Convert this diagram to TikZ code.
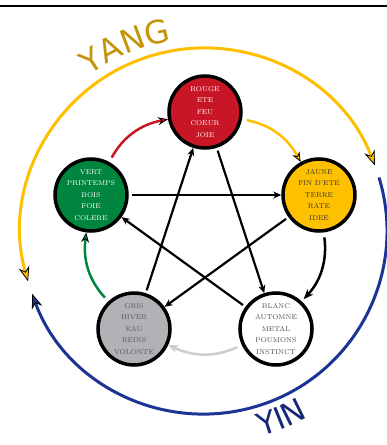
\documentclass[tikz,border=0pt]{standalone}
\usepackage{fontspec}
\newfontfamily\yinyangfont{DejaVu Sans}
\usetikzlibrary{arrows.meta,decorations.text}

\definecolor{rouge}{RGB}{200,22,38}
\definecolor{vert}{RGB}{0,133,62}
\definecolor{jaune}{RGB}{255,192,0}
\definecolor{gris}{RGB}{176,178,181}
\definecolor{grisclair}{RGB}{205,205,205}
\definecolor{yangor}{RGB}{255,190,0}
\definecolor{yinbleu}{RGB}{28,52,148}
\definecolor{yangtexte}{RGB}{196,148,10}
\definecolor{yintexte}{RGB}{22,40,118}

\begin{document}
\begin{tikzpicture}[x=1pt,y=1pt,
  element/.style={circle,draw=black,line width=3.5pt,minimum size=72pt,inner sep=0pt,
    align=center,font=\fontsize{7}{11.5}\selectfont},
  ke/.style={line width=2.2pt,shorten <=3pt,-{Stealth[length=8pt,width=7pt]}},
  sheng/.style={line width=2.5pt,draw=#1,bend left=25,shorten <=5pt,
    -{Stealth[length=10pt,width=8pt,fill=#1,color=black,line width=0.8pt]}},
  yangarc/.style={line width=3pt,draw=yangor,
    {Stealth[length=15pt,width=11pt,fill=yangor,color=black,line width=0.8pt]}-{Stealth[length=15pt,width=11pt,fill=yangor,color=black,line width=0.8pt]}},
  yinarc/.style={line width=3pt,draw=yinbleu,
    -{Stealth[length=15pt,width=11pt,fill=yinbleu,color=black,line width=0.8pt]}}]
  \useasboundingbox (0,0) rectangle (387,445);
  \draw[line width=2pt] (0,439) -- (387,439);
  \coordinate (centre) at (204,214);

  % yang / yin
  \draw[yangarc] ([shift={(196:183)}]centre) arc[start angle=196,end angle=21,radius=183];
  \draw[yinarc] ([shift={(17:183)}]centre) arc[start angle=17,end angle=-160,radius=183];
  \path[decorate,decoration={text along path,text align=center,text color=yangtexte,
    text={|\yinyangfont\fontsize{32}{32}\selectfont|YANG}}]
    ([shift={(142:193)}]centre) arc[start angle=142,end angle=84,radius=193];
  \path[decorate,decoration={text along path,text align=center,text color=yintexte,
    text={|\yinyangfont\fontsize{31}{31}\selectfont|YIN}}]
    ([shift={(-86:213)}]centre) arc[start angle=-86,end angle=-49,radius=213];

  % les cinq elements
  \node[element,fill=rouge,text=white]      (feu)   at (205,333) {ROUGE\\ETE\\FEU\\COEUR\\JOIE};
  \node[element,fill=jaune,text=black!80]   (terre) at (319,250) {JAUNE\\FIN D'ETE\\TERRE\\RATE\\IDEE};
  \node[element,fill=white,text=black!70]   (metal) at (276,116) {BLANC\\AUTOMNE\\METAL\\POUMONS\\INSTINCT};
  \node[element,fill=gris,text=black!65]    (eau)   at (134,116) {GRIS\\HIVER\\EAU\\REINS\\VOLONTE};
  \node[element,fill=vert,text=white]       (bois)  at (91,250)  {VERT\\PRINTEMPS\\BOIS\\FOIE\\COLERE};

  % controle
  \path (bois)  edge[ke] (terre);
  \path (terre) edge[ke] (eau);
  \path (eau)   edge[ke] (feu);
  \path (feu)   edge[ke] (metal);
  \path (metal) edge[ke] (bois);

  % engendrement
  \path (bois)  edge[sheng=rouge] (feu);
  \path (feu)   edge[sheng=yangor] (terre);
  \path (terre) edge[sheng=black,shorten >=3pt] (metal);
  \path (metal) edge[sheng=grisclair,-{Stealth[length=10pt,width=8pt,fill=black]}] (eau);
  \path (eau)   edge[sheng=vert] (bois);
\end{tikzpicture}
\end{document}
